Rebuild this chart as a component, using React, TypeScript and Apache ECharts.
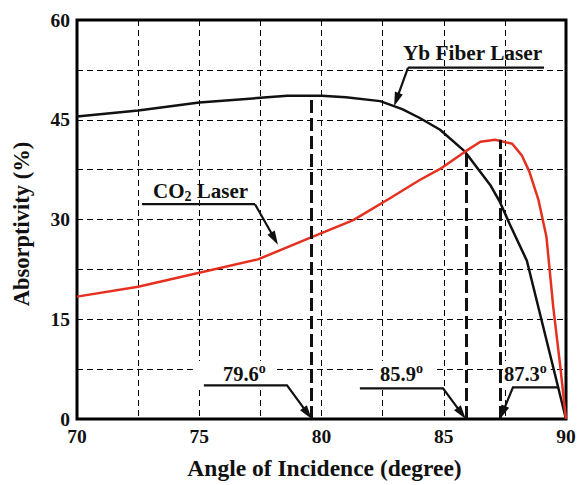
import React, { useEffect, useRef } from 'react';
import * as echarts from 'echarts';

// ---- data ----
const ybAngles = [70, 72.5, 75, 77.5, 78.6, 80, 81, 82.4, 83.3, 84, 84.85, 85.87, 86.9, 87.3, 87.7, 88.4, 90];
const ybValues = [45.5, 46.4, 47.6, 48.3, 48.6, 48.6, 48.4, 47.8, 46.6, 45.3, 43.5, 40.2, 35.2, 32.6, 29.3, 23.8, 0];

const co2Angles = [70, 72.5, 75, 77.4, 79.5, 81.3, 82.8, 84, 84.85, 85.87, 86.5, 87.1, 87.8, 88.2, 88.5, 88.87, 89.2, 89.48, 89.75, 90];
const co2Values = [18.4, 19.9, 22.0, 24.0, 27.2, 29.9, 33.2, 35.9, 37.6, 40.2, 41.7, 42.0, 41.4, 39.6, 37.2, 33.0, 27.4, 16.8, 8.4, 0];

const markerAngles = [79.6, 85.9, 87.3];
const markerTops = [48.6, 40.2, 42.0];
const markerLabels = ['79.6', '85.9', '87.3'];

const xTickLabels = ['70', '75', '80', '85', '90'];
const yTickLabels = ['0', '15', '30', '45', '60'];

const FONT = 'Liberation Serif';

export default function App() {
  const ref = useRef<HTMLDivElement>(null);
  useEffect(() => {
    const chart = echarts.init(ref.current!, null, { renderer: 'svg' });
    chart.setOption({
      animation: false,
      backgroundColor: '#fff',
      grid: {
        left: 77, right: 15, top: 20, bottom: 62,
        show: true, borderColor: '#000', borderWidth: 3, backgroundColor: 'transparent',
      },
      xAxis: {
        type: 'value', min: 70, max: 90, interval: 2.5,
        name: 'Angle of Incidence (degree)', nameLocation: 'middle', nameGap: 37,
        nameTextStyle: { fontFamily: FONT, fontWeight: 'bold', fontSize: 23.5, color: '#111', padding: [0, 0, 0, 6] },
        axisLine: { show: false }, axisTick: { show: false },
        axisLabel: {
          margin: 7, fontFamily: FONT, fontWeight: 'bold', fontSize: 19.5, color: '#111',
          formatter: (v: number) => (xTickLabels.includes(String(v)) ? String(v) : ''),
        },
        splitLine: { show: true, lineStyle: { color: '#000', width: 1, type: [6, 4] } },
      },
      yAxis: {
        type: 'value', min: 0, max: 60, interval: 7.5,
        axisLine: { show: false }, axisTick: { show: false },
        axisLabel: {
          margin: 7, fontFamily: FONT, fontWeight: 'bold', fontSize: 19.5, color: '#111',
          formatter: (v: number) => (yTickLabels.includes(String(v)) ? String(v) : ''),
        },
        splitLine: { show: true, lineStyle: { color: '#000', width: 1, type: [6, 4] } },
      },
      series: [
        {
          type: 'line', name: 'Yb Fiber Laser',
          data: ybAngles.map((a, i) => [a, ybValues[i]]),
          showSymbol: false, smooth: false,
          lineStyle: { color: '#111', width: 2.5 },
          markLine: {
            silent: true, symbol: 'none', label: { show: false },
            lineStyle: { color: '#111', width: 3, type: [13, 5] },
            data: markerAngles.map((a, i) => [{ coord: [a, 0] }, { coord: [a, markerTops[i]] }]),
          },
          z: 3,
        },
        {
          type: 'line', name: 'CO2 Laser',
          data: co2Angles.map((a, i) => [a, co2Values[i]]),
          showSymbol: false, smooth: false,
          lineStyle: { color: '#e5301f', width: 2.5 },
          z: 3,
        },
      ],
    });

    const px = (x: number, y: number) => chart.convertToPixel({ gridIndex: 0 }, [x, y]) as number[];

    const arrowEls = (pts: number[][], len = 14, half = 4.2) => {
      const p1 = pts[pts.length - 1];
      const p0 = pts[pts.length - 2];
      const dx = p1[0] - p0[0], dy = p1[1] - p0[1];
      const d = Math.hypot(dx, dy);
      const ux = dx / d, uy = dy / d;
      const bx = p1[0] - ux * len, by = p1[1] - uy * len;
      const line = pts.slice(0, -1).concat([[bx + ux * 2, by + uy * 2]]);
      return [
        { type: 'polyline', z: 10, shape: { points: line }, style: { stroke: '#111', lineWidth: 2.2, fill: null } },
        {
          type: 'polygon', z: 10,
          shape: { points: [p1, [bx - uy * half, by + ux * half], [bx + uy * half, by - ux * half]] },
          style: { fill: '#111' },
        },
      ];
    };

    const degRich = {
      n: { fontFamily: FONT, fontWeight: 'bold', fontSize: 20.5, lineHeight: 24, fill: '#111' },
      s: { fontFamily: FONT, fontWeight: 'bold', fontSize: 14, lineHeight: 10, verticalAlign: 'top', fill: '#111' },
    };

    // annotation layout (data coords)
    const degBoxes = [
      { left: 74.74, pad: [1, 10, 1, 30] },
      { left: 82.27, pad: [1, 14, 1, 3] },
      { left: 87.42, pad: [1, 4, 1, 1] },
    ];
    const labelY = 6.77;
    const leaders = [
      { y: 5.06, start: 75.19, elbow: 78.59 },
      { y: 4.62, start: 81.57, elbow: 84.97 },
      { y: 4.76, start: 89.67, elbow: 87.83 },
    ];

    const els: any[] = [];
    // y-axis title
    els.push({
      type: 'text', z: 10, x: 21, y: 224, rotation: Math.PI / 2,
      style: { text: 'Absorptivity (%)', fontFamily: FONT, fontWeight: 'bold', fontSize: 22.5, fill: '#111', align: 'center', verticalAlign: 'middle' },
    });

    markerLabels.forEach((lab, i) => {
      const p = px(degBoxes[i].left, labelY);
      els.push({
        type: 'text', z: 1, x: p[0], y: p[1],
        style: {
          text: `{n|${lab}}{s|o}`, rich: degRich, align: 'left', verticalAlign: 'middle',
          backgroundColor: '#fff', padding: degBoxes[i].pad,
        },
      });
      const L = leaders[i];
      els.push(...arrowEls([px(L.start, L.y), px(L.elbow, L.y), px(markerAngles[i], 0)]));
    });

    // Yb Fiber Laser
    const ybT = px(86.18, 55.1);
    els.push({
      type: 'text', z: 10, x: ybT[0], y: ybT[1],
      style: { text: 'Yb Fiber Laser', fontFamily: FONT, fontWeight: 'bold', fontSize: 21.3, fill: '#111', align: 'center', verticalAlign: 'middle' },
    });
    els.push({ type: 'polyline', z: 10, shape: { points: [px(89.1, 52.85), px(83.54, 52.85)] }, style: { stroke: '#111', lineWidth: 2.2, fill: null } });
    els.push(...arrowEls([px(83.54, 52.85), px(82.97, 47.04)]));

    // CO2 Laser
    const coT = px(73.11, 34.24);
    els.push({
      type: 'text', z: 10, x: coT[0], y: coT[1],
      style: {
        text: '{n|CO}{b|2}{n| Laser}', align: 'left', verticalAlign: 'middle',
        rich: {
          n: { fontFamily: FONT, fontWeight: 'bold', fontSize: 21, lineHeight: 24, fill: '#111' },
          b: { fontFamily: FONT, fontWeight: 'bold', fontSize: 14, lineHeight: 13, verticalAlign: 'bottom', fill: '#111' },
        },
      },
    });
    els.push({ type: 'polyline', z: 10, shape: { points: [px(72.66, 32.3), px(77.28, 32.3)] }, style: { stroke: '#111', lineWidth: 2.2, fill: null } });
    els.push(...arrowEls([px(77.28, 32.3), px(78.22, 26.2)]));

    chart.setOption({ graphic: els });
    return () => chart.dispose();
  }, []);
  return <div ref={ref} style={{ position: 'absolute', left: 0, top: 0, width: 581, height: 485 }} />;
}
